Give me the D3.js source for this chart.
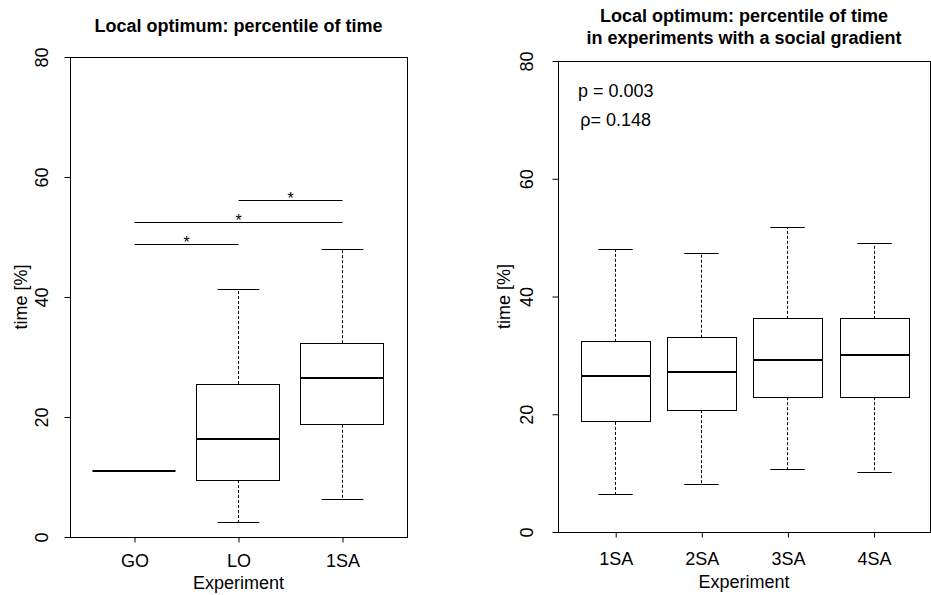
<!DOCTYPE html>
<html>
<head>
<meta charset="utf-8">
<script src="https://cdn.jsdelivr.net/npm/d3@7"></script>
<style>
  body { margin: 0; background: #fff; }
  svg { display: block; font-family: "Liberation Sans", Arial, Helvetica, sans-serif; }
</style>
</head>
<body>
<svg id="chart" width="931" height="595"></svg>
<script>
// ---- values ----
const timeTicks = [0, 20, 40, 60, 80];

// Panel 1: GO / LO / 1SA
const baseCategories = ["GO", "LO", "1SA"];
const baseLowerWhisker = [11.0, 2.4, 6.3];
const baseLowerQuartile = [11.0, 9.5, 18.7];
const baseMedian = [11.0, 16.3, 26.5];
const baseUpperQuartile = [11.0, 25.5, 32.3];
const baseUpperWhisker = [11.0, 41.3, 48.0];

// Significant pairwise differences (bar from -> to, drawn at a height in %)
const sigFrom = ["GO", "GO", "LO"];
const sigTo = ["LO", "1SA", "1SA"];
const sigLevel = [48.8, 52.5, 56.1];
const sigMark = ["*", "*", "*"];

// Panel 2: social gradient 1SA..4SA
const gradCategories = ["1SA", "2SA", "3SA", "4SA"];
const gradLowerWhisker = [6.3, 8.1, 10.7, 10.1];
const gradLowerQuartile = [18.7, 20.7, 22.9, 22.9];
const gradMedian = [26.5, 27.1, 29.2, 30.0];
const gradUpperQuartile = [32.3, 33.0, 36.2, 36.2];
const gradUpperWhisker = [48.0, 47.3, 51.7, 49.0];

// Trend test annotation
const statText = ["p = 0.003", "\u03C1= 0.148"];
const statLevel = [75, 70];

// ---- drawing ----
const svg = d3.select("#chart");
const FONT = 18;
// keep 1px strokes on the pixel grid
const snap = v => Math.round(v - 0.5) + 0.5;

function drawPanel(p) {
  const g = svg.append("g");
  const x = d3.scaleLinear().domain(p.xDomain).range([p.left, p.right]);
  const y = d3.scaleLinear().domain([0, 80]).range([p.bottom, p.top]);
  const unit = x(1) - x(0);
  const boxW = 0.8 * unit;
  const stapleW = boxW / 2;
  const pos = c => x(p.categories.indexOf(c) + 1);

  const stats = p.categories.map((c, i) => ({
    c, lo: p.lo[i], q1: p.q1[i], med: p.med[i], q3: p.q3[i], hi: p.hi[i]
  }));

  // axes
  const yAxis = d3.axisLeft(y).tickValues(timeTicks).tickSize(5.5).tickSizeOuter(0).tickFormat(d3.format("d"));
  const ya = g.append("g").attr("transform", `translate(${p.left},0)`).call(yAxis);
  ya.attr("font-family", null).attr("font-size", FONT);
  ya.selectAll("path, line").attr("stroke", "#000");
  ya.selectAll("text")
    .attr("fill", "#000")
    .attr("transform", "rotate(-90)")
    .attr("x", 0)
    .attr("y", -p.yLabelGap)
    .attr("dy", null)
    .attr("text-anchor", "middle");

  const xAxis = d3.axisBottom(x).tickValues(p.categories.map((c, i) => i + 1))
    .tickSize(5.5).tickSizeOuter(0).tickFormat(d => p.categories[d - 1]);
  const xa = g.append("g").attr("transform", `translate(0,${p.bottom})`).call(xAxis);
  xa.attr("font-family", null).attr("font-size", FONT);
  xa.select(".domain").remove();
  xa.selectAll("line").attr("stroke", "#000");
  xa.selectAll("text").attr("fill", "#000").attr("y", p.xLabelGap).attr("dy", null);

  // frame
  g.append("rect")
    .attr("x", p.left + 0.5).attr("y", p.top + 0.5)
    .attr("width", p.right - p.left).attr("height", p.bottom - p.top)
    .attr("fill", "none").attr("stroke", "#000").attr("stroke-width", 1);

  // boxes
  const b = g.append("g").selectAll("g").data(stats).join("g");
  const cx = d => snap(pos(d.c));
  const dash = "3,2";
  b.append("line").attr("x1", cx).attr("x2", cx)
    .attr("y1", d => y(d.q3)).attr("y2", d => y(d.hi))
    .attr("stroke", "#000").attr("stroke-dasharray", dash);
  b.append("line").attr("x1", cx).attr("x2", cx)
    .attr("y1", d => y(d.q1)).attr("y2", d => y(d.lo))
    .attr("stroke", "#000").attr("stroke-dasharray", dash);
  b.append("line").attr("x1", d => cx(d) - stapleW / 2).attr("x2", d => cx(d) + stapleW / 2)
    .attr("y1", d => snap(y(d.hi))).attr("y2", d => snap(y(d.hi))).attr("stroke", "#000");
  b.append("line").attr("x1", d => cx(d) - stapleW / 2).attr("x2", d => cx(d) + stapleW / 2)
    .attr("y1", d => snap(y(d.lo))).attr("y2", d => snap(y(d.lo))).attr("stroke", "#000");
  b.append("rect")
    .attr("x", d => snap(cx(d) - boxW / 2)).attr("width", Math.round(boxW))
    .attr("y", d => snap(y(d.q3))).attr("height", d => snap(y(d.q1)) - snap(y(d.q3)))
    .attr("fill", "#fff").attr("stroke", "#000");
  b.append("line").attr("x1", d => snap(cx(d) - boxW / 2)).attr("x2", d => snap(cx(d) - boxW / 2) + Math.round(boxW))
    .attr("y1", d => Math.round(y(d.med))).attr("y2", d => Math.round(y(d.med)))
    .attr("stroke", "#000").attr("stroke-width", 2);

  // titles and axis labels
  const midX = (p.left + p.right) / 2;
  p.title.forEach((t, i) => {
    g.append("text").attr("x", midX).attr("y", p.titleBaseline + i * 22.3)
      .attr("text-anchor", "middle").attr("font-weight", "bold")
      .attr("font-size", FONT).text(t);
  });
  g.append("text").attr("x", midX).attr("y", p.xTitleBaseline)
    .attr("text-anchor", "middle").attr("font-size", FONT).text("Experiment");
  g.append("text")
    .attr("transform", `translate(${p.yTitleBaseline},${(p.top + p.bottom) / 2}) rotate(-90)`)
    .attr("text-anchor", "middle").attr("font-size", FONT).text("time [%]");

  return { g, x, y, pos };
}

const left = drawPanel({
  categories: baseCategories,
  lo: baseLowerWhisker, q1: baseLowerQuartile, med: baseMedian,
  q3: baseUpperQuartile, hi: baseUpperWhisker,
  left: 70, right: 407, top: 57, bottom: 537,
  xDomain: [0.38, 3.62],
  yLabelGap: 22, xLabelGap: 29.5,
  title: ["Local optimum: percentile of time"],
  titleBaseline: 31.5, xTitleBaseline: 589.3, yTitleBaseline: 26.5
});

// significance bars
sigFrom.forEach((f, i) => {
  const x1 = left.pos(f), x2 = left.pos(sigTo[i]);
  const yy = snap(left.y(sigLevel[i]));
  left.g.append("line").attr("x1", x1).attr("x2", x2).attr("y1", yy).attr("y2", yy)
    .attr("stroke", "#000").attr("stroke-width", 1);
  left.g.append("text").attr("x", (x1 + x2) / 2).attr("y", yy + 3)
    .attr("text-anchor", "middle").attr("font-size", 16).text(sigMark[i]);
});

const right = drawPanel({
  categories: gradCategories,
  lo: gradLowerWhisker, q1: gradLowerQuartile, med: gradMedian,
  q3: gradUpperQuartile, hi: gradUpperWhisker,
  left: 558, right: 930, top: 61, bottom: 532,
  xDomain: [0.33, 4.65],
  yLabelGap: 25, xLabelGap: 33,
  title: ["Local optimum: percentile of time", "in experiments with a social gradient"],
  titleBaseline: 21.7, xTitleBaseline: 588.3, yTitleBaseline: 510
});

statText.forEach((t, i) => {
  right.g.append("text").attr("x", right.x(1)).attr("y", right.y(statLevel[i]))
    .attr("dy", "0.35em").attr("text-anchor", "middle").attr("font-size", FONT).text(t);
});
</script>
</body>
</html>
